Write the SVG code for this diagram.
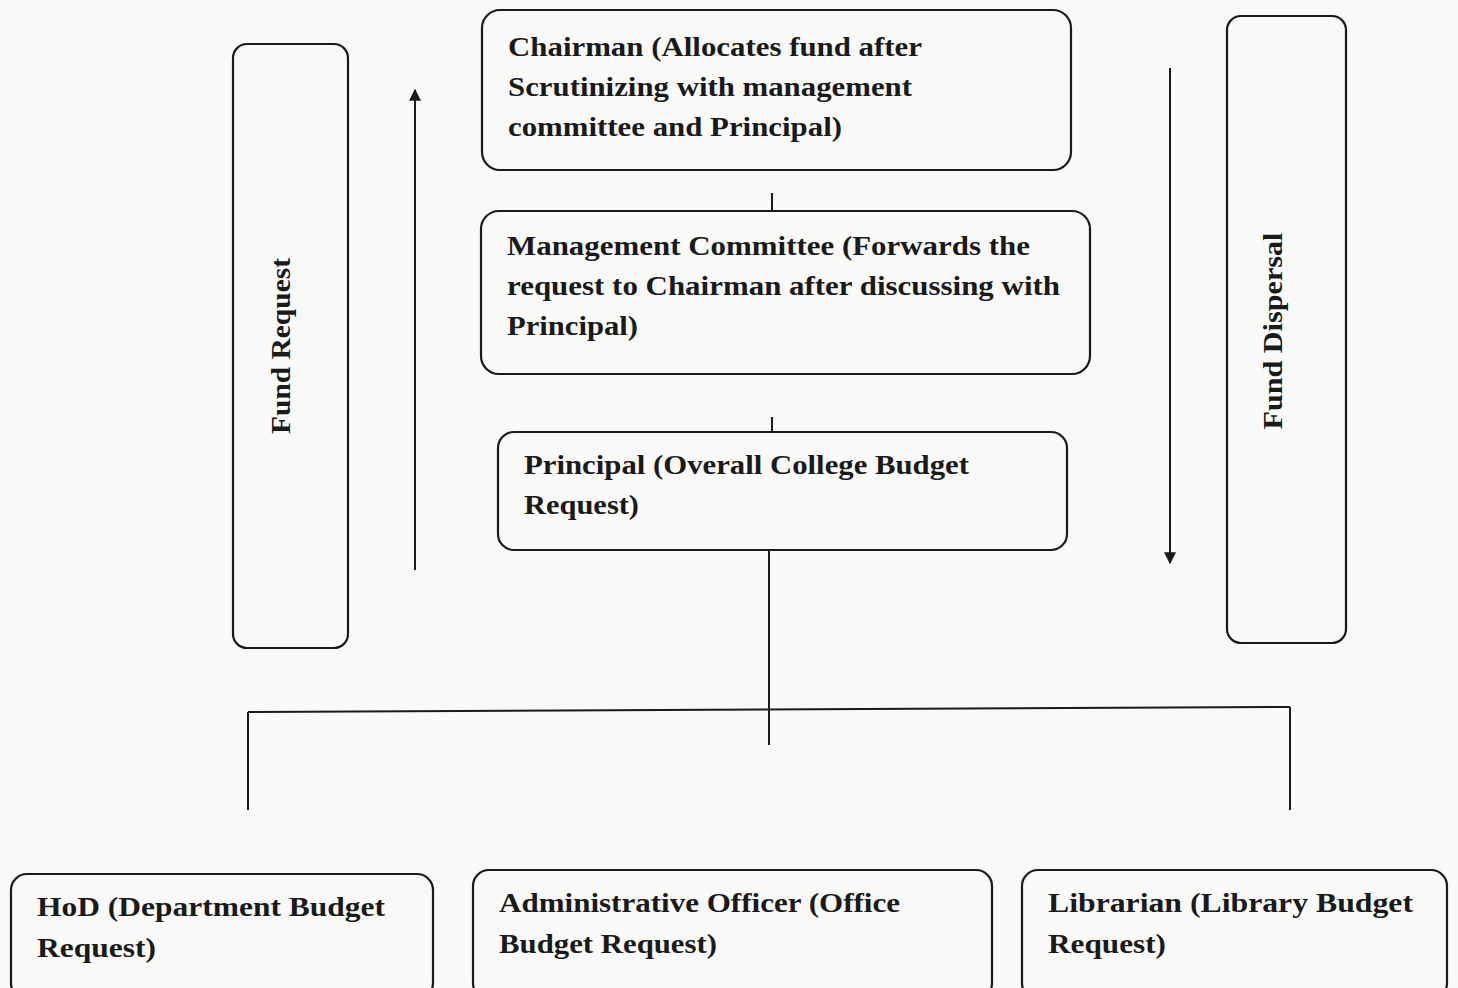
<svg xmlns="http://www.w3.org/2000/svg" width="1458" height="988" viewBox="0 0 1458 988">
<style>
.box{fill:none;stroke:#1a1a1a;stroke-width:2.2}
.ln{fill:none;stroke:#1a1a1a;stroke-width:2}
.t{font-family:"Liberation Serif","Times New Roman",serif;font-weight:bold;font-size:28px;fill:#1a1a1a}
</style>
<defs>
<marker id="ah" viewBox="0 0 10 10" refX="9" refY="5" markerWidth="6" markerHeight="6" orient="auto">
<path d="M0,0 L10,5 L0,10 z" fill="#1a1a1a"/>
</marker>
</defs>
<rect width="1458" height="988" fill="#f9f9f8"/>
<g id="connectors">
<line class="ln" x1="772" y1="193" x2="772" y2="212"/>
<line class="ln" x1="772" y1="417" x2="772" y2="432"/>
<line class="ln" x1="769" y1="550" x2="769" y2="745"/>
<line class="ln" x1="248" y1="712" x2="1290" y2="707"/>
<line class="ln" x1="248" y1="712" x2="248" y2="810"/>
<line class="ln" x1="1290" y1="707" x2="1290" y2="810"/>
<line class="ln" x1="415" y1="570" x2="415" y2="90" marker-end="url(#ah)"/>
<line class="ln" x1="1170" y1="68" x2="1170" y2="563" marker-end="url(#ah)"/>
</g>
<g id="fund-request">
<rect class="box" x="233" y="44" width="115" height="604" rx="14"/>
<text class="t" transform="translate(290,346) rotate(-90)" text-anchor="middle" textLength="176" lengthAdjust="spacingAndGlyphs">Fund Request</text>
</g>
<g id="fund-dispersal">
<rect class="box" x="1227" y="16" width="119" height="627" rx="14"/>
<text class="t" transform="translate(1282,331) rotate(-90)" text-anchor="middle" textLength="197" lengthAdjust="spacingAndGlyphs">Fund Dispersal</text>
</g>
<g id="chairman">
<rect class="box" x="482" y="10" width="589" height="160" rx="18"/>
<text class="t" x="508" y="56" textLength="414" lengthAdjust="spacingAndGlyphs">Chairman (Allocates fund after</text>
<text class="t" x="508" y="96" textLength="404" lengthAdjust="spacingAndGlyphs">Scrutinizing with management</text>
<text class="t" x="508" y="136" textLength="334" lengthAdjust="spacingAndGlyphs">committee and Principal)</text>
</g>
<g id="management-committee">
<rect class="box" x="481" y="211" width="609" height="163" rx="18"/>
<text class="t" x="507" y="255" textLength="523" lengthAdjust="spacingAndGlyphs">Management Committee (Forwards the</text>
<text class="t" x="507" y="295" textLength="553" lengthAdjust="spacingAndGlyphs">request to Chairman after discussing with</text>
<text class="t" x="507" y="335" textLength="131" lengthAdjust="spacingAndGlyphs">Principal)</text>
</g>
<g id="principal">
<rect class="box" x="498" y="432" width="569" height="118" rx="16"/>
<text class="t" x="524" y="474" textLength="445" lengthAdjust="spacingAndGlyphs">Principal (Overall College Budget</text>
<text class="t" x="524" y="514" textLength="115" lengthAdjust="spacingAndGlyphs">Request)</text>
</g>
<g id="hod">
<rect class="box" x="11" y="874" width="422" height="125" rx="16"/>
<text class="t" x="37" y="916" textLength="348" lengthAdjust="spacingAndGlyphs">HoD (Department Budget</text>
<text class="t" x="37" y="957" textLength="119" lengthAdjust="spacingAndGlyphs">Request)</text>
</g>
<g id="administrative-officer">
<rect class="box" x="473" y="870" width="519" height="129" rx="16"/>
<text class="t" x="499" y="912" textLength="401" lengthAdjust="spacingAndGlyphs">Administrative Officer (Office</text>
<text class="t" x="499" y="953" textLength="218" lengthAdjust="spacingAndGlyphs">Budget Request)</text>
</g>
<g id="librarian">
<rect class="box" x="1022" y="870" width="425" height="129" rx="16"/>
<text class="t" x="1048" y="912" textLength="365" lengthAdjust="spacingAndGlyphs">Librarian (Library Budget</text>
<text class="t" x="1048" y="953" textLength="118" lengthAdjust="spacingAndGlyphs">Request)</text>
</g>
</svg>
